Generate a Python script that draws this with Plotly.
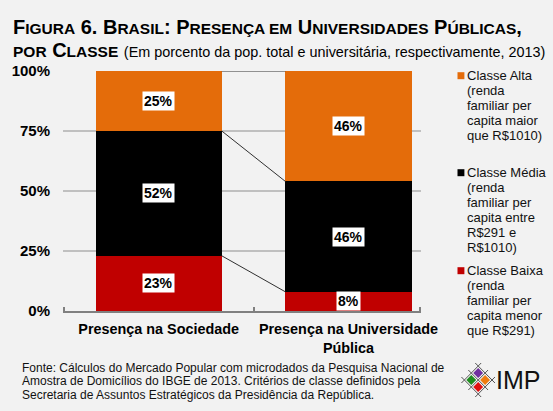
import numpy as np
import plotly.graph_objects as go

# ---------------- data ----------------
categories = ["Presença na Sociedade", "Presença na Universidade<br>Pública"]
classes = ["Classe Baixa", "Classe Média", "Classe Alta"]
baixa = [23, 8]
media = [52, 46]
alta = [25, 46]
y_ticks = [0, 25, 50, 75, 100]
y_tick_labels = ["0%", "25%", "50%", "75%", "100%"]
legend_lines = {
    "Classe Alta": ["Classe Alta", "(renda", "familiar per", "capita maior", "que R$1010)"],
    "Classe Média": ["Classe Média", "(renda", "familiar per", "capita entre", "R$291 e", "R$1010)"],
    "Classe Baixa": ["Classe Baixa", "(renda", "familiar per", "capita menor", "que R$291)"],
}
footer_lines = [
    "Fonte: Cálculos do Mercado Popular com microdados da Pesquisa Nacional de",
    "Amostra de Domicílios do IBGE de 2013. Critérios de classe definidos pela",
    "Secretaria de Assuntos Estratégicos da Presidência da República.",
]

# ---------------- style ----------------
W, H = 553, 411
PL, PR, PT, PB = 58, 421, 71, 311  # plot area in pixels
colors = {"Classe Baixa": "#c00000", "Classe Média": "#000000", "Classe Alta": "#e46c0a"}
BG = "#f2f2f2"
FONT = "Liberation Sans, Arial, sans-serif"
TXT = "#111111"
bar_w = 0.665
x_range = [-0.504, 1.382]


def xp(px):
    return (px - PL) / (PR - PL)


def yp(py):
    return (PB - py) / (PB - PT)


series = {"Classe Baixa": baixa, "Classe Média": media, "Classe Alta": alta}
xs = list(range(len(categories)))

fig = go.Figure()
for name in classes:
    fig.add_trace(go.Bar(
        x=xs, y=series[name], name=name, width=bar_w,
        marker=dict(color=colors[name], line=dict(width=0)),
        showlegend=False, hoverinfo="skip",
    ))

# series lines between stacked tops
stack = np.array([series[n] for n in classes])
tops = np.cumsum(stack, axis=0)
for k in range(len(classes)):
    fig.add_trace(go.Scatter(
        x=[xs[0] + bar_w / 2, xs[1] - bar_w / 2],
        y=[tops[k][0], tops[k][1]],
        mode="lines", line=dict(color="#303030", width=1),
        showlegend=False, hoverinfo="skip",
    ))

annotations = []
# value labels
bottoms = tops - stack
for k, name in enumerate(classes):
    for i in xs:
        v = series[name][i]
        annotations.append(dict(
            x=i, y=bottoms[k][i] + v / 2, xref="x", yref="y",
            text=f"<b>{v}%</b>", showarrow=False, bgcolor="white",
            borderpad=1, font=dict(family=FONT, size=14, color="#000000"),
        ))

# title
S = '<span style="font-size:15.5px">'
E = "</span>"
title1 = (f"<b>F{S}IGURA{E} 6. B{S}RASIL{E}: P{S}RESENÇA EM{E} "
          f"U{S}NIVERSIDADES{E} P{S}ÚBLICAS{E},</b>")
title2 = (f"<b>{S}POR{E} C{S}LASSE{E}</b> "
          f'<span style="font-size:14.4px">(Em porcento da pop. total e universitária, respectivamente, 2013)</span>')
annotations.append(dict(x=xp(5), y=yp(26.5), xref="paper", yref="paper", xanchor="left",
                        yanchor="middle", text=title1, showarrow=False,
                        font=dict(family=FONT, size=20, color="#000000")))
annotations.append(dict(x=xp(5), y=yp(49.5), xref="paper", yref="paper", xanchor="left",
                        yanchor="middle", text=title2, showarrow=False,
                        font=dict(family=FONT, size=20, color="#000000")))

# legend (manual, to mimic spacing)
shapes = []
legend_start = {"Classe Alta": 75.7, "Classe Média": 172.7, "Classe Baixa": 270.7}
for name in ["Classe Alta", "Classe Média", "Classe Baixa"]:
    y0 = legend_start[name]
    shapes.append(dict(type="rect", xref="paper", yref="paper",
                       x0=xp(458), x1=xp(465), y0=yp(y0 + 3.5), y1=yp(y0 - 3.5),
                       fillcolor=colors[name], line=dict(width=0)))
    for j, line in enumerate(legend_lines[name]):
        annotations.append(dict(x=xp(466), y=yp(y0 + 15 * j), xref="paper", yref="paper",
                                xanchor="left", yanchor="middle", text=line, showarrow=False,
                                font=dict(family=FONT, size=13, color=TXT)))

# footer
for j, line in enumerate(footer_lines):
    annotations.append(dict(x=xp(14), y=yp(367.5 + 13.5 * j), xref="paper", yref="paper",
                            xanchor="left", yanchor="middle", text=line, showarrow=False,
                            font=dict(family=FONT, size=12, color=TXT)))

# logo
def path_poly(pts):
    return "M " + " L ".join(f"{xp(a)},{yp(b)}" for a, b in pts) + " Z"

logo_cells = [((479, 373), "#7030a0"), ((472, 380), "#1e8c1e"),
              ((486, 380), "#f07c10"), ((479, 387), "#e01010")]
lines_pts = [((476, 363), (496, 383)), ((469, 370), (489, 390)), ((462, 377), (482, 397)),
             ((462, 383), (482, 363)), ((469, 390), (489, 370)), ((476, 397), (496, 377))]
for (a, b) in lines_pts:
    shapes.append(dict(type="line", xref="paper", yref="paper",
                       x0=xp(a[0]), y0=yp(a[1]), x1=xp(b[0]), y1=yp(b[1]),
                       line=dict(color="#555555", width=1)))
for (cx, cy), c in logo_cells:
    d = 5
    shapes.append(dict(type="path", xref="paper", yref="paper",
                       path=path_poly([(cx, cy - d), (cx + d, cy), (cx, cy + d), (cx - d, cy)]),
                       fillcolor=c, line=dict(width=0)))
annotations.append(dict(x=xp(495), y=yp(380), xref="paper", yref="paper", xanchor="left",
                        yanchor="middle", text="IMP", showarrow=False,
                        font=dict(family=FONT, size=25, color="#111111")))

fig.update_layout(
    width=W, height=H,
    margin=dict(l=PL, r=W - PR, t=PT, b=H - PB, pad=0),
    paper_bgcolor=BG, plot_bgcolor=BG,
    barmode="stack", bargap=0,
    font=dict(family=FONT, color=TXT),
    annotations=annotations, shapes=shapes,
    xaxis=dict(
        range=x_range, tickmode="array", tickvals=xs, ticktext=[f"<b>{c}</b>" for c in categories],
        ticks="", showgrid=False, zeroline=False,
        showline=True, linecolor="#808080", linewidth=2,
        tickfont=dict(family=FONT, size=14.4, color="#000000"),
        minor=dict(tickmode="array", tickvals=[x_range[0] + 0.004, 0.5, x_range[1] - 0.004],
                   ticks="inside", ticklen=4, tickwidth=2, tickcolor="#808080", showgrid=False),
        ticklabelstandoff=4,
    ),
    yaxis=dict(
        range=[0, 100], tickmode="array", tickvals=y_ticks,
        ticktext=[f"<b>{t}</b>" for t in y_tick_labels],
        showgrid=True, gridcolor="#c0c0c0", gridwidth=2, zeroline=False,
        ticks="", tickfont=dict(family=FONT, size=15, color="#000000"),
        ticklabelstandoff=12,
    ),
)

fig.write_html("out.html")
